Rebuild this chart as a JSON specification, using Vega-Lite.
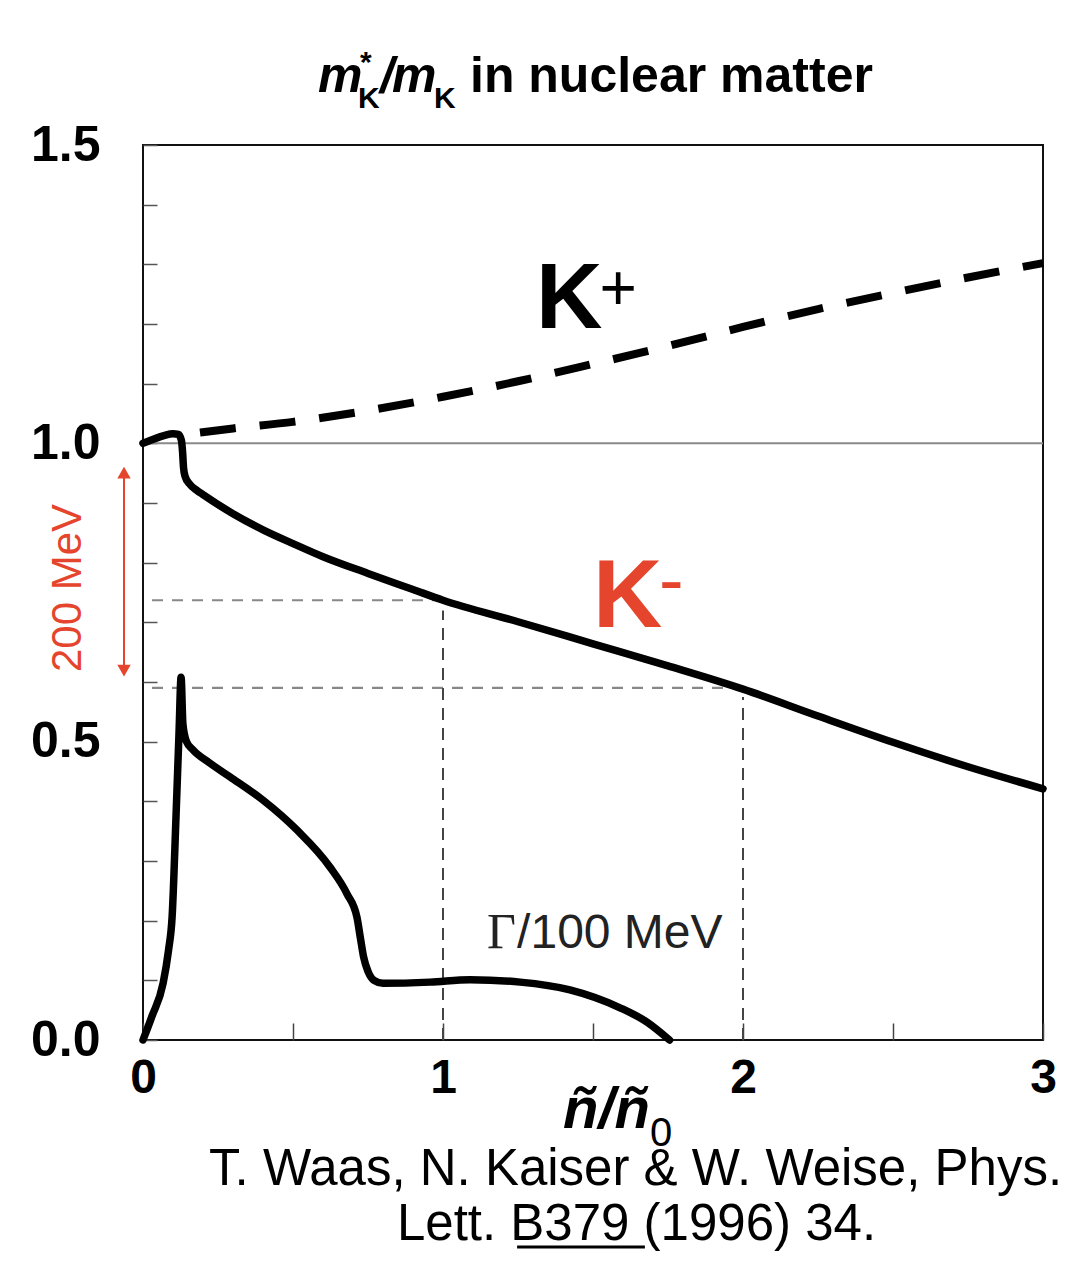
{
  "$schema": "https://vega.github.io/schema/vega-lite/v6.json",
  "width": 900,
  "height": 895,
  "autosize": {"type": "none"},
  "padding": {"left": 143, "top": 145, "right": 23, "bottom": 237},
  "background": "white",
  "config": {"view": {"stroke": "#111", "strokeWidth": 2}, "font": "Liberation Sans"},
  "datasets": {
    "kminus": [
      {"n": 0.0, "v": 1.0}, {"n": 0.03, "v": 1.006}, {"n": 0.07, "v": 1.013}, {"n": 0.1, "v": 1.016},
      {"n": 0.118, "v": 1.015}, {"n": 0.128, "v": 1.005}, {"n": 0.132, "v": 0.985}, {"n": 0.135, "v": 0.96},
      {"n": 0.14, "v": 0.945}, {"n": 0.155, "v": 0.932}, {"n": 0.18, "v": 0.921}, {"n": 0.2, "v": 0.914},
      {"n": 0.3, "v": 0.882}, {"n": 0.4, "v": 0.855}, {"n": 0.5, "v": 0.832}, {"n": 0.6, "v": 0.81},
      {"n": 0.75, "v": 0.782}, {"n": 0.9, "v": 0.755}, {"n": 1.0, "v": 0.737}, {"n": 1.25, "v": 0.701},
      {"n": 1.5, "v": 0.664}, {"n": 1.75, "v": 0.627}, {"n": 2.0, "v": 0.588}, {"n": 2.25, "v": 0.543},
      {"n": 2.5, "v": 0.499}, {"n": 2.75, "v": 0.458}, {"n": 3.0, "v": 0.421}
    ],
    "kplus": [
      {"n": 0.19, "v": 1.018}, {"n": 0.3, "v": 1.025}, {"n": 0.5, "v": 1.036}, {"n": 0.75, "v": 1.055},
      {"n": 1.0, "v": 1.078}, {"n": 1.25, "v": 1.104}, {"n": 1.5, "v": 1.133}, {"n": 1.75, "v": 1.163},
      {"n": 2.0, "v": 1.195}, {"n": 2.25, "v": 1.225}, {"n": 2.5, "v": 1.252}, {"n": 2.75, "v": 1.278},
      {"n": 3.0, "v": 1.302}
    ],
    "gamma": [
      {"n": 0.0, "v": 0.0}, {"n": 0.03, "v": 0.04}, {"n": 0.067, "v": 0.095}, {"n": 0.085, "v": 0.15},
      {"n": 0.097, "v": 0.206}, {"n": 0.11, "v": 0.374}, {"n": 0.12, "v": 0.514}, {"n": 0.127, "v": 0.608},
      {"n": 0.133, "v": 0.53}, {"n": 0.145, "v": 0.5}, {"n": 0.167, "v": 0.486}, {"n": 0.22, "v": 0.465},
      {"n": 0.29, "v": 0.441}, {"n": 0.4, "v": 0.402}, {"n": 0.513, "v": 0.352}, {"n": 0.623, "v": 0.29},
      {"n": 0.68, "v": 0.245}, {"n": 0.713, "v": 0.206}, {"n": 0.725, "v": 0.17}, {"n": 0.735, "v": 0.14},
      {"n": 0.75, "v": 0.115}, {"n": 0.77, "v": 0.1}, {"n": 0.8, "v": 0.095}, {"n": 0.957, "v": 0.097},
      {"n": 1.09, "v": 0.101}, {"n": 1.257, "v": 0.097}, {"n": 1.423, "v": 0.084}, {"n": 1.59, "v": 0.054},
      {"n": 1.68, "v": 0.03}, {"n": 1.755, "v": 0.0}
    ]
  },
  "encoding": {
    "x": {
      "field": "n", "type": "quantitative",
      "scale": {"domain": [0, 3], "nice": false, "zero": false},
      "axis": {
        "title": null, "grid": false, "domain": false,
        "values": [0, 0.5, 1, 1.5, 2, 2.5, 3],
        "labelExpr": "datum.value % 1 == 0 ? format(datum.value, 'd') : ''",
        "tickSize": -17, "tickColor": "#444", "tickWidth": 1.5,
        "labelFontSize": 48, "labelFontWeight": "bold", "labelColor": "black",
        "labelPadding": 31, "labelFlush": false, "labelOverlap": false
      }
    },
    "y": {
      "field": "v", "type": "quantitative",
      "scale": {"domain": [0, 1.5], "nice": false, "zero": false},
      "axis": {
        "title": null, "grid": false, "domain": false,
        "values": [0, 0.1, 0.2, 0.3, 0.4, 0.5, 0.6, 0.7, 0.8, 0.9, 1.0, 1.1, 1.2, 1.3, 1.4, 1.5],
        "labelExpr": "abs(datum.value * 2 - round(datum.value * 2)) < 0.001 ? format(datum.value, '.1f') : ''",
        "tickSize": -14, "tickColor": "#555", "tickWidth": 1.5,
        "labelFontSize": 50, "labelFontWeight": "bold", "labelColor": "black",
        "labelPadding": 57, "labelOverlap": false
      }
    }
  },
  "layer": [
    {
      "data": {"values": [{"n": 0, "n2": 3, "v": 1}]},
      "mark": {"type": "rule", "color": "#8a8a8a", "strokeWidth": 2},
      "encoding": {"x2": {"field": "n2"}}
    },
    {
      "data": {"values": [{"n": 0.03, "n2": 0.97, "v": 0.737}, {"n": 0.03, "n2": 1.95, "v": 0.59}]},
      "mark": {"type": "rule", "color": "#888", "strokeWidth": 2.2, "strokeDash": [11, 9]},
      "encoding": {"x2": {"field": "n2"}}
    },
    {
      "data": {"values": [{"n": 1, "v": 0, "v2": 0.72}, {"n": 2, "v": 0, "v2": 0.575}]},
      "mark": {"type": "rule", "color": "#444", "strokeWidth": 2, "strokeDash": [12, 8]},
      "encoding": {"y2": {"field": "v2"}}
    },
    {
      "data": {"name": "kplus"},
      "mark": {"type": "line", "color": "black", "strokeWidth": 8, "strokeDash": [36, 24], "interpolate": "monotone"},
      "encoding": {}
    },
    {
      "data": {"name": "kminus"},
      "mark": {"type": "line", "color": "black", "strokeWidth": 7.5, "interpolate": "monotone", "strokeCap": "round", "strokeJoin": "round"},
      "encoding": {}
    },
    {
      "data": {"name": "gamma"},
      "mark": {"type": "line", "color": "black", "strokeWidth": 7.5, "interpolate": "monotone", "strokeCap": "round", "strokeJoin": "round"},
      "encoding": {}
    },
    {
      "data": {"values": [{"n": 1.31, "v": 1.193, "t": "K"}]},
      "mark": {"type": "text", "align": "left", "baseline": "alphabetic", "fontSize": 92, "fontWeight": "bold", "color": "black"},
      "encoding": {"text": {"field": "t"}}
    },
    {
      "data": {"values": [{"n": 1.522, "v": 1.2235, "t": "+"}]},
      "mark": {"type": "text", "align": "left", "baseline": "alphabetic", "fontSize": 64, "color": "black"},
      "encoding": {"text": {"field": "t"}}
    },
    {
      "data": {"values": [{"n": 1.5, "v": 0.692, "t": "K"}]},
      "mark": {"type": "text", "align": "left", "baseline": "alphabetic", "fontSize": 96, "fontWeight": "bold", "color": "#e5452d"},
      "encoding": {"text": {"field": "t"}}
    },
    {
      "data": {"values": [{"n": 1.72, "v": 0.729, "t": "-"}]},
      "mark": {"type": "text", "align": "left", "baseline": "alphabetic", "fontSize": 74, "color": "#e5452d"},
      "encoding": {"text": {"field": "t"}}
    },
    {
      "data": {"values": [{"n": 1.147, "v": 0.1542, "t": "Γ"}]},
      "mark": {"type": "text", "align": "left", "baseline": "alphabetic", "fontSize": 50, "font": "Liberation Serif", "color": "#222"},
      "encoding": {"text": {"field": "t"}}
    },
    {
      "data": {"values": [{"n": 1.247, "v": 0.1542, "t": "/100 MeV"}]},
      "mark": {"type": "text", "align": "left", "baseline": "alphabetic", "fontSize": 48, "color": "#222"},
      "encoding": {"text": {"field": "t"}}
    },
    {
      "data": {"values": [{"n": -0.25, "v": 0.7576, "t": "200 MeV"}]},
      "mark": {"type": "text", "align": "center", "baseline": "middle", "angle": 270, "fontSize": 42, "color": "#e5452d"},
      "encoding": {"text": {"field": "t"}}
    },
    {
      "data": {"values": [{"n": -0.0633, "v": 0.955, "v2": 0.615}]},
      "mark": {"type": "rule", "color": "#e5452d", "strokeWidth": 2},
      "encoding": {"y2": {"field": "v2"}}
    },
    {
      "data": {"values": [{"n": -0.0633, "v": 0.951, "end": "top"}, {"n": -0.0633, "v": 0.619, "end": "bottom"}]},
      "mark": {"type": "point", "filled": true, "size": 180, "color": "#e5452d", "opacity": 1},
      "encoding": {"shape": {"field": "end", "type": "nominal", "scale": {"domain": ["top", "bottom"], "range": ["triangle-up", "triangle-down"]}, "legend": null}}
    },
    {
      "data": {"values": [{"n": 0.583, "v": 1.589, "t": "m"}, {"n": 0.79, "v": 1.589, "t": "/"}, {"n": 0.83, "v": 1.589, "t": "m"}]},
      "mark": {"type": "text", "align": "left", "baseline": "alphabetic", "fontSize": 50, "fontWeight": "bold", "fontStyle": "italic", "color": "black"},
      "encoding": {"text": {"field": "t"}}
    },
    {
      "data": {"values": [{"n": 0.723, "v": 1.622, "t": "*"}, {"n": 0.717, "v": 1.562, "t": "K"}, {"n": 0.97, "v": 1.562, "t": "K"}]},
      "mark": {"type": "text", "align": "left", "baseline": "alphabetic", "fontSize": 30, "fontWeight": "bold", "color": "black"},
      "encoding": {"text": {"field": "t"}}
    },
    {
      "data": {"values": [{"n": 1.09, "v": 1.589, "t": "in nuclear matter"}]},
      "mark": {"type": "text", "align": "left", "baseline": "alphabetic", "fontSize": 50, "fontWeight": "bold", "color": "black"},
      "encoding": {"text": {"field": "t"}}
    },
    {
      "data": {"values": [{"n": 1.4, "v": -0.1475, "t": "ñ/ñ"}]},
      "mark": {"type": "text", "align": "left", "baseline": "alphabetic", "fontSize": 58, "fontWeight": "bold", "fontStyle": "italic", "color": "black"},
      "encoding": {"text": {"field": "t"}}
    },
    {
      "data": {"values": [{"n": 1.69, "v": -0.178, "t": "0"}]},
      "mark": {"type": "text", "align": "left", "baseline": "alphabetic", "fontSize": 40, "color": "black"},
      "encoding": {"text": {"field": "t"}}
    },
    {
      "data": {"values": [{"n": 1.642, "v": -0.243, "t": "T. Waas, N. Kaiser & W. Weise, Phys."}, {"n": 1.645, "v": -0.335, "t": "Lett. B379 (1996) 34."}]},
      "mark": {"type": "text", "align": "center", "baseline": "alphabetic", "fontSize": 51, "color": "black"},
      "encoding": {"text": {"field": "t"}}
    },
    {
      "data": {"values": [{"n": 1.247, "n2": 1.673, "v": -0.347}]},
      "mark": {"type": "rule", "color": "black", "strokeWidth": 3},
      "encoding": {"x2": {"field": "n2"}}
    }
  ]
}
